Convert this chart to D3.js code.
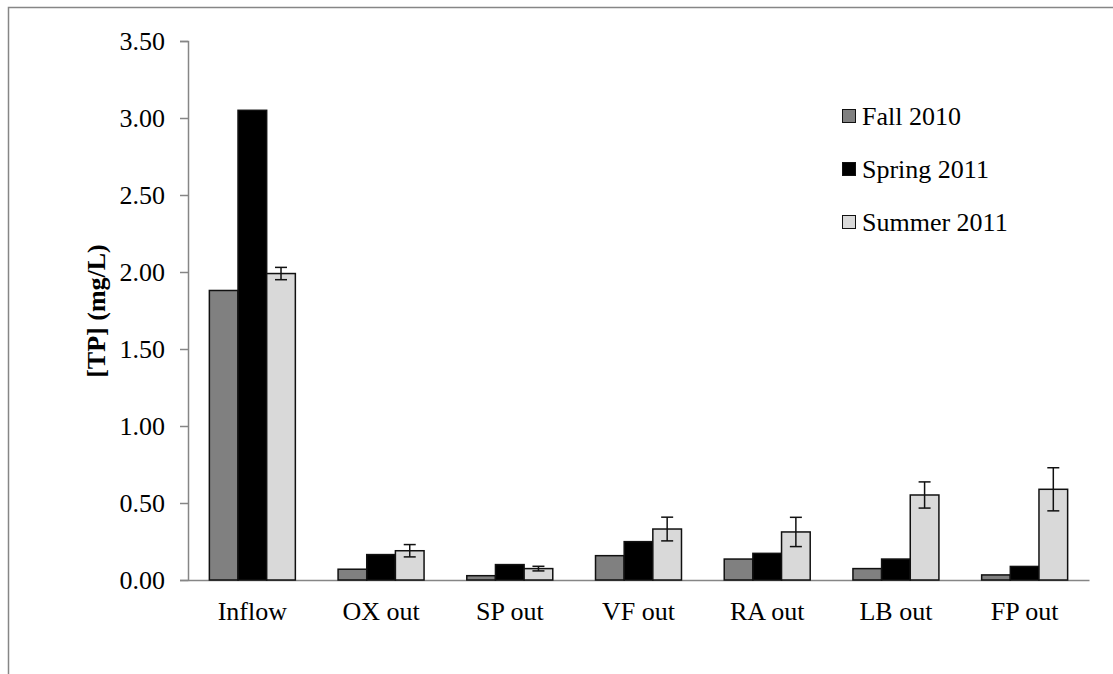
<!DOCTYPE html>
<html>
<head>
<meta charset="utf-8">
<script src="https://cdn.jsdelivr.net/npm/d3@7/dist/d3.min.js"></script>
<style>
body{
margin:0;
background:white;
font-family:"Liberation Serif","Times New Roman",serif;
}
</style>
</head>
<body>
<div id="chart"></div>
<script>
// data
var sites = ["Inflow","OX out","SP out","VF out","RA out","LB out","FP out"]
var seasons = ["Fall 2010","Spring 2011","Summer 2011"]
var fall = [1.88,0.07,0.028,0.158,0.136,0.074,0.033]
var spring = [3.05,0.165,0.10,0.249,0.173,0.136,0.088]
var summer = [1.99,0.19,0.074,0.331,0.312,0.552,0.589]
var summerErr = [0.04,0.04,0.015,0.077,0.095,0.085,0.14]
var yTicks = [0,0.5,1,1.5,2,2.5,3,3.5]

var colors = ["#808080","#000000","#d9d9d9"]
var axisColor = "#868686"
var W = 1113, H = 674
var plotL = 188, plotR = 1089, plotT = 41, plotB = 580

var svg = d3.select("#chart").append("svg")
.attr("width",W)
.attr("height",H)

// outer frame (only top and left visible)
svg.append("path")
.attr("d","M8.5,"+H+" V7.5 H"+W)
.attr("fill","none")
.attr("stroke",axisColor)
.attr("stroke-width",1.5)

var x0 = d3.scaleBand().domain(sites).range([plotL,plotR]).paddingInner(0.332).paddingOuter(0.166)
var x1 = d3.scaleBand().domain(seasons).range([0,x0.bandwidth()]).padding(0)
var y = d3.scaleLinear().domain([0,3.5]).range([plotB,plotT])

var rows = sites.map(function(s,i){
return {site:s, vals:[fall[i],spring[i],summer[i]], err:summerErr[i]}
})

// y axis
var yAxis = svg.append("g")
.attr("transform","translate("+plotL+",0)")
.call(d3.axisLeft(y).tickValues(yTicks).tickSize(8).tickPadding(15).tickFormat(d3.format(".2f")))
yAxis.select(".domain").attr("stroke",axisColor).attr("stroke-width",1.5)
yAxis.selectAll(".tick line").attr("stroke",axisColor).attr("stroke-width",1.5)
yAxis.selectAll("text")
.attr("font-family","Liberation Serif, Times New Roman, serif")
.attr("font-size",26)
.attr("fill","black")

// x axis baseline and labels
var xAxis = svg.append("g")
.attr("transform","translate(0,"+plotB+")")
.call(d3.axisBottom(x0).tickSize(0).tickPadding(22))
xAxis.select(".domain").attr("stroke",axisColor).attr("stroke-width",1.5)
xAxis.selectAll("text")
.attr("font-family","Liberation Serif, Times New Roman, serif")
.attr("font-size",26)
.attr("fill","black")

// bars
var groups = svg.selectAll(".grp")
.data(rows)
.enter()
.append("g")
.attr("class","grp")
.attr("transform",function(d){return "translate("+x0(d.site)+",0)"})

groups.selectAll("rect")
.data(function(d){return d.vals.map(function(v,k){return {season:seasons[k],v:v,k:k}})})
.enter()
.append("rect")
.attr("x",function(d){return x1(d.season)})
.attr("width",x1.bandwidth())
.attr("y",function(d){return y(d.v)})
.attr("height",function(d){return y(0)-y(d.v)})
.attr("fill",function(d){return colors[d.k]})
.attr("stroke","#111")
.attr("stroke-width",1.5)

// error bars on summer
var cap = 6
groups.each(function(d){
var g = d3.select(this)
var cx = x1("Summer 2011")+x1.bandwidth()/2
var yt = y(d.vals[2]+d.err), yb = y(d.vals[2]-d.err)
g.append("line").attr("x1",cx).attr("x2",cx).attr("y1",yt).attr("y2",yb)
.attr("stroke","#111").attr("stroke-width",1.5)
g.append("line").attr("x1",cx-cap).attr("x2",cx+cap).attr("y1",yt).attr("y2",yt)
.attr("stroke","#111").attr("stroke-width",1.5)
g.append("line").attr("x1",cx-cap).attr("x2",cx+cap).attr("y1",yb).attr("y2",yb)
.attr("stroke","#111").attr("stroke-width",1.5)
})

// y label
svg.append("text")
.attr("transform","translate(105,311) rotate(-90)")
.attr("text-anchor","middle")
.attr("font-size",26)
.attr("font-weight","bold")
.text("[TP] (mg/L)")

// legend
var leg = svg.selectAll(".leg")
.data(seasons)
.enter()
.append("g")
.attr("class","leg")
.attr("transform",function(d,i){return "translate(842,"+(116+i*53)+")"})
leg.append("rect")
.attr("x",0.5).attr("y",-6.5)
.attr("width",13).attr("height",13)
.attr("fill",function(d,i){return colors[i]})
.attr("stroke","#111")
.attr("stroke-width",1)
leg.append("text")
.attr("x",20)
.attr("y",9)
.attr("font-size",26)
.text(function(d){return d})
</script>
</body>
</html>
